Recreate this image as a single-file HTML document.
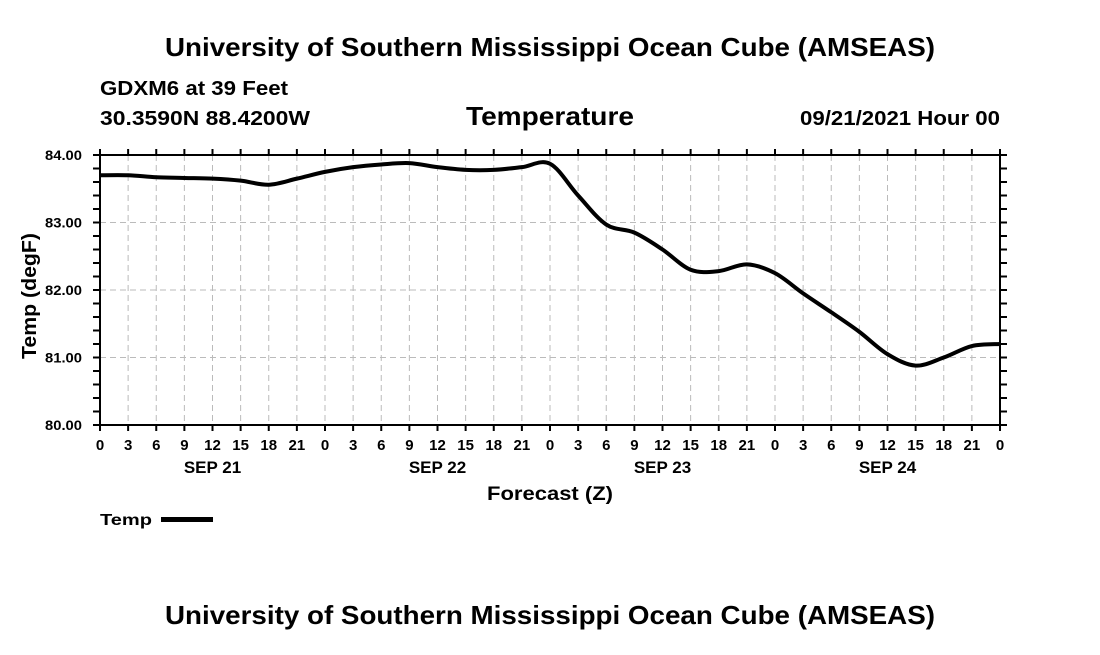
<!DOCTYPE html>
<html><head><meta charset="utf-8"><style>
body{margin:0;background:#fff;width:1100px;height:650px;overflow:hidden;font-family:"Liberation Sans",sans-serif}
text{font-family:"Liberation Sans",sans-serif;font-weight:bold;fill:#000}
</style></head><body>
<svg id="chart" width="1100" height="650">
<text x="165" y="56" font-size="26" textLength="770" lengthAdjust="spacingAndGlyphs">University of Southern Mississippi Ocean Cube (AMSEAS)</text>
<text x="100" y="95" font-size="20" textLength="188" lengthAdjust="spacingAndGlyphs">GDXM6 at 39 Feet</text>
<text x="100" y="125" font-size="20" textLength="210" lengthAdjust="spacingAndGlyphs">30.3590N  88.4200W</text>
<text x="466" y="125" font-size="26" textLength="168" lengthAdjust="spacingAndGlyphs">Temperature</text>
<text x="800" y="125" font-size="20" textLength="200" lengthAdjust="spacingAndGlyphs">09/21/2021 Hour 00</text>
<g id="grid"></g><g id="axes"></g>
<path id="line" fill="none" stroke="#000" stroke-width="4"/>
<text x="36" y="359" font-size="20" textLength="126" lengthAdjust="spacingAndGlyphs" transform="rotate(-90 36 359)">Temp (degF)</text>
<text x="487" y="500" font-size="19" textLength="126" lengthAdjust="spacingAndGlyphs">Forecast (Z)</text>
<text x="100" y="525" font-size="16" textLength="52" lengthAdjust="spacingAndGlyphs">Temp</text>
<rect x="161" y="517" width="52" height="5" fill="#000"/>
<text x="165" y="624" font-size="26" textLength="770" lengthAdjust="spacingAndGlyphs">University of Southern Mississippi Ocean Cube (AMSEAS)</text>
</svg>
<script>
const hours=[0,3,6,9,12,15,18,21,24,27,30,33,36,39,42,45,48,51,54,57,60,63,66,69,72,75,78,81,84,87,90,93,96];
const temps=[83.70,83.70,83.67,83.66,83.65,83.62,83.56,83.65,83.75,83.82,83.86,83.88,83.82,83.78,83.78,83.82,83.87,83.40,82.97,82.85,82.60,82.30,82.28,82.38,82.25,81.95,81.67,81.38,81.05,80.88,81.00,81.17,81.20];
const yTicks=[80,81,82,83,84];
const xTickLabels=["0","3","6","9","12","15","18","21"];
const dayLabels=["SEP 21","SEP 22","SEP 23","SEP 24"];
const L=100,R=1000,T=155,B=425,ns="http://www.w3.org/2000/svg";
const xs=h=>L+h*(R-L)/96, ys=v=>B-(v-80)*(B-T)/4;
function mk(p,tag,a){const e=document.createElementNS(ns,tag);for(const k in a)e.setAttribute(k,a[k]);p.appendChild(e);return e;}
const g=document.getElementById('grid'),ax=document.getElementById('axes');
for(let h=3;h<96;h+=3){const l=mk(g,'line',{x1:xs(h),x2:xs(h),y1:T,y2:B,stroke:'#bbb','stroke-dasharray':'6,4'});

}
yTicks.forEach(v=>{const l=mk(g,'line',{x1:L,x2:R,y1:ys(v),y2:ys(v),stroke:'#bbb','stroke-dasharray':'6,4'});


const t=mk(ax,'text',{x:L-55,y:ys(v)+5,'font-size':14,textLength:37,lengthAdjust:'spacingAndGlyphs'});t.textContent=v.toFixed(2);

});
for(let v=80;v<=84.001;v+=0.2){mk(ax,'line',{x1:L-7,x2:L,y1:ys(v),y2:ys(v),stroke:'#000','stroke-width':2});mk(ax,'line',{x1:R,x2:R+7,y1:ys(v),y2:ys(v),stroke:'#000','stroke-width':2});}
const fr=mk(ax,'rect',{x:L,y:T,width:R-L,height:B-T,fill:'none',stroke:'#000','stroke-width':2});


for(let h=0;h<=96;h+=3){mk(ax,'line',{x1:xs(h),x2:xs(h),y1:B,y2:B+6,stroke:'#000','stroke-width':2});mk(ax,'line',{x1:xs(h),x2:xs(h),y1:T-6,y2:T,stroke:'#000','stroke-width':2});
const t=mk(ax,'text',{x:xs(h),y:B+25,'text-anchor':'middle','font-size':15});t.textContent=xTickLabels[(h/3)%8];

}
dayLabels.forEach((d,i)=>{const t=mk(ax,'text',{x:xs(i*24+12),y:B+48,'text-anchor':'middle','font-size':17});t.textContent=d;

});
const P=hours.map((h,i)=>[xs(h),ys(temps[i])]);
let d='M'+P[0].join(',');
for(let i=0;i<P.length-1;i++){const p0=P[Math.max(0,i-1)],p1=P[i],p2=P[i+1],p3=P[Math.min(P.length-1,i+2)];
d+=`C${p1[0]+(p2[0]-p0[0])/6},${p1[1]+(p2[1]-p0[1])/6} ${p2[0]-(p3[0]-p1[0])/6},${p2[1]-(p3[1]-p1[1])/6} ${p2[0]},${p2[1]}`;}
document.getElementById('line').setAttribute('d',d);
</script>
</body></html>
